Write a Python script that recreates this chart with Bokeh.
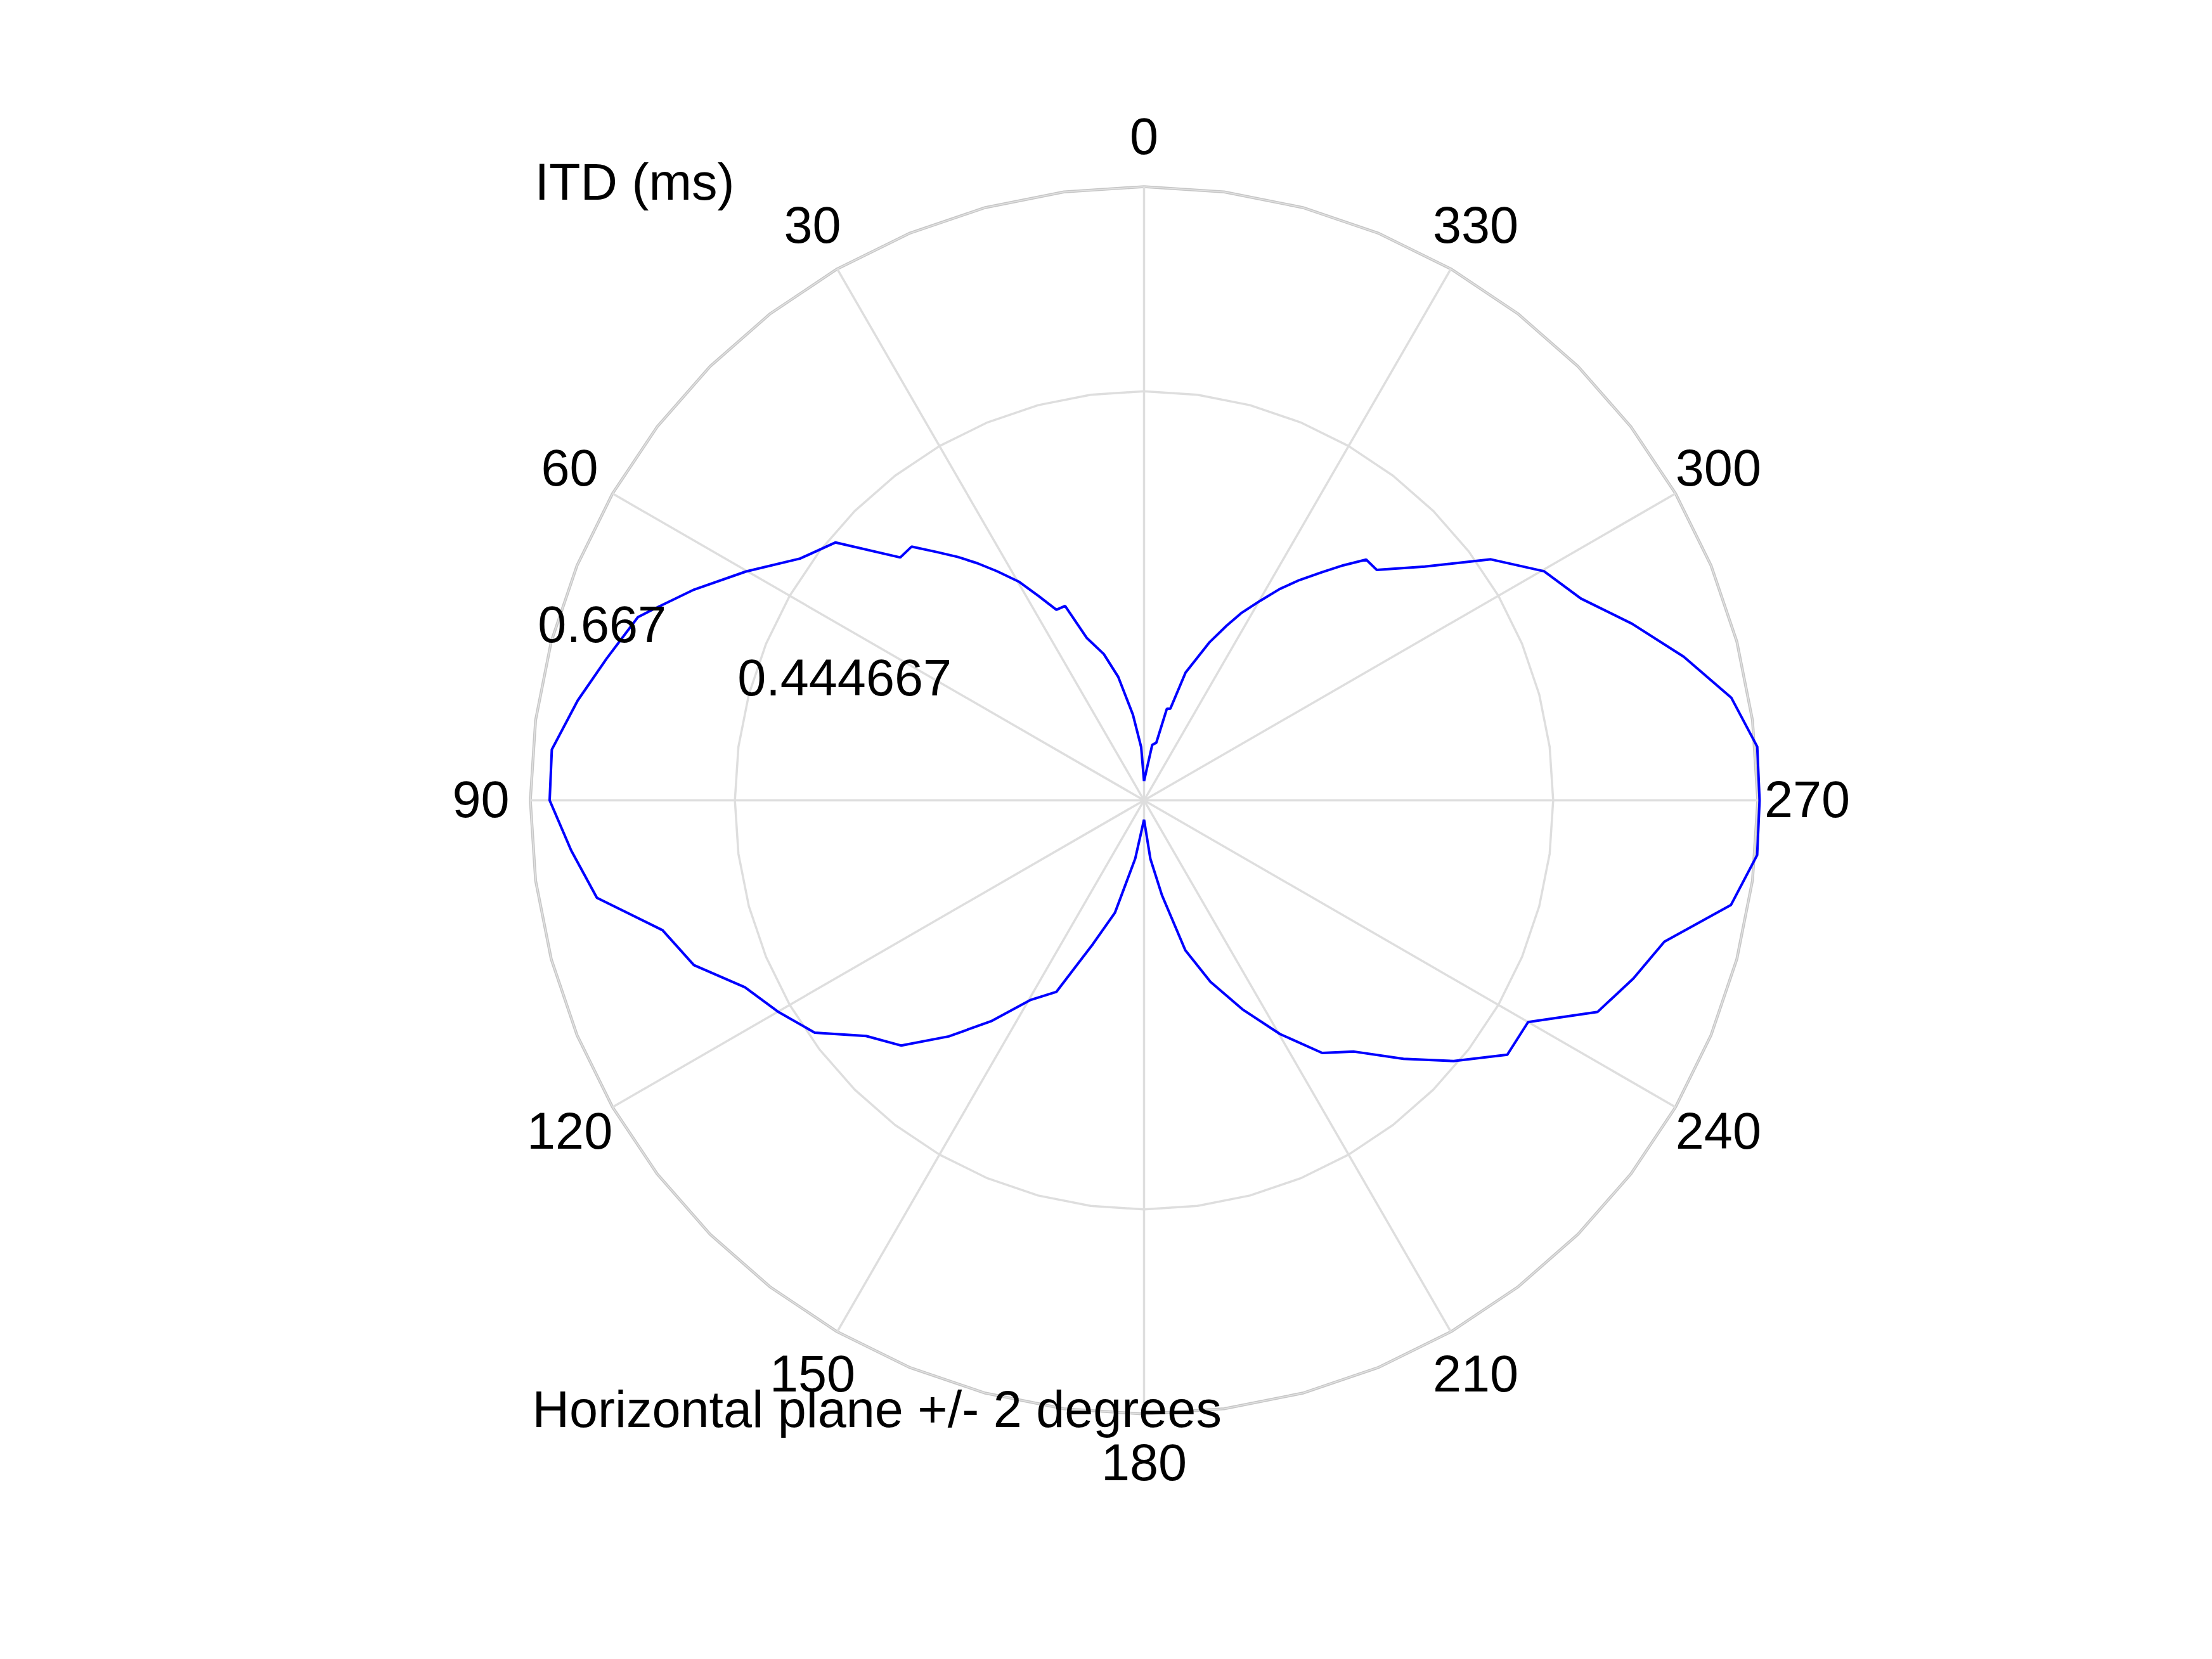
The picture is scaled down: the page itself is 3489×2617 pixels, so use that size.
import numpy as np
from bokeh.plotting import figure
from bokeh.embed import file_html
from bokeh.resources import INLINE
from bokeh.core.properties import value

# ---------------- data ----------------
azimuth_deg = [0.0, 3.1, 7.4, 11.8, 15.4, 19.4, 22.1, 24.7, 27.3, 29.8, 32.7, 35.1,
               37.4, 39.9, 42.5, 45.1, 50.1, 54.9, 60.1, 64.9, 68.8, 70.1, 75.2, 80.0,
               85.1, 90.0, 95.0, 100.1, 105.1, 110.1, 115.1, 120.1, 125.2, 130.3, 135.3,
               140.4, 145.3, 150.3, 155.4, 160.4, 165.5, 171.4, 180.0,
               186.2, 190.7, 195.4, 200.1, 205.2, 210.2, 215.2, 219.9, 225.1, 229.9,
               235.0, 240.0, 245.0, 250.0, 254.8, 259.9, 264.9, 270.0, 275.0, 279.9,
               284.9, 289.9, 294.8, 299.8, 304.8, 309.8, 314.7, 317.3, 319.7, 322.1,
               324.8, 327.3, 329.8, 332.6, 334.7, 337.5, 342.0, 344.0, 346.0, 348.0,
               351.6, 360.0]
itd_ms = [0.021, 0.058, 0.094, 0.137, 0.165, 0.187, 0.228, 0.228, 0.250, 0.274, 0.296, 0.315,
          0.333, 0.352, 0.374, 0.374, 0.437, 0.457, 0.499, 0.540, 0.573, 0.585, 0.604, 0.625,
          0.646, 0.646, 0.625, 0.604, 0.542, 0.521, 0.479, 0.459, 0.438, 0.396, 0.375,
          0.333, 0.292, 0.250, 0.229, 0.166, 0.126, 0.064, 0.021,
          0.064, 0.105, 0.169, 0.210, 0.251, 0.294, 0.336, 0.356, 0.398, 0.440,
          0.482, 0.482, 0.544, 0.566, 0.586, 0.648, 0.669, 0.669, 0.669, 0.648,
          0.607, 0.564, 0.523, 0.501, 0.459, 0.397, 0.356, 0.356, 0.335, 0.314,
          0.293, 0.273, 0.251, 0.229, 0.210, 0.186, 0.146, 0.1036, 0.1026, 0.064,
          0.061, 0.021]

ring_values = [0.444667, 0.667]
ring_labels = ["0.444667", "0.667"]
spoke_angles = [0, 30, 60, 90, 120, 150, 180, 210, 240, 270, 300, 330]
spoke_labels = ["0", "30", "60", "90", "120", "150", "180", "210", "240", "270", "300", "330"]
title_text = "ITD (ms)"
caption_text = "Horizontal plane +/- 2 degrees"

# ---------------- layout ----------------
W, H = 3473, 2601
CX, CY = 1804, 1262          # polar centre in frame pixels (from top-left)
RMAX = ring_values[-1]
K = 968.0 / RMAX             # pixels per ms
FONT = value("Liberation Sans")
FS = "81px"
TXT_OFF = 31.0               # rendered text sits this many px below its nominal baseline


def pol(theta_deg, r):
    t = np.radians(np.asarray(theta_deg, dtype=float))
    r = np.asarray(r, dtype=float)
    return -r * np.sin(t), r * np.cos(t)


p = figure(width=W, height=H,
           x_range=(-CX / K, (W - CX) / K),
           y_range=(-(H - CY) / K, CY / K),
           x_axis_type=None, y_axis_type=None,
           output_backend="svg", toolbar_location=None, min_border=0)
p.grid.visible = False
p.outline_line_color = None
p.background_fill_color = "white"
p.border_fill_color = "white"

# rings (faceted polygons)
poly_t = np.arange(0, 360.0 + 7.5, 7.5)
for i, rv in enumerate(ring_values):
    rx, ry = pol(poly_t, np.full(poly_t.shape, rv))
    if i == len(ring_values) - 1:
        p.line(rx, ry, line_color="#c6c6c6", line_width=4.5)
        p.line(rx, ry, line_color="#e2e2e2", line_width=1.6)
    else:
        p.line(rx, ry, line_color="#dedede", line_width=3.5)

# spokes
sx, sy = pol(spoke_angles, [RMAX] * len(spoke_angles))
p.segment(x0=[0.0] * len(spoke_angles), y0=[0.0] * len(spoke_angles), x1=sx, y1=sy,
          line_color="#dedede", line_width=3.5)

# data curve
dx, dy = pol(azimuth_deg, itd_ms)
p.line(dx, dy, line_color="#0000ff", line_width=4)

# angle labels (visual centre placed on the label circle)
shift = (0.358 * 81 - TXT_OFF) / K
lx, ly = pol(spoke_angles, [RMAX * 1.0806] * len(spoke_angles))
p.text(x=lx, y=ly - shift, text=spoke_labels, text_font=FONT, text_font_size=FS,
       text_align="center", text_baseline="alphabetic", text_color="black")

# ring value labels
rl_ang = [67.9, 72.1]
rl_frac = [0.790, 0.928]
rx_, ry_ = pol(rl_ang, [rv * f for rv, f in zip(ring_values, rl_frac)])
p.text(x=rx_, y=ry_ - shift, text=ring_labels, text_font=FONT, text_font_size=FS,
       text_align="center", text_baseline="alphabetic", text_color="black")

# title & caption (baselines)
p.text(x=[(843 - CX) / K], y=[(CY - 317 + TXT_OFF) / K], text=[title_text], text_font=FONT,
       text_font_size=FS, text_align="left", text_baseline="alphabetic", text_color="black")
p.text(x=[(839 - CX) / K], y=[(CY - 2253 + TXT_OFF) / K], text=[caption_text], text_font=FONT,
       text_font_size=FS, text_align="left", text_baseline="alphabetic", text_color="black")

open("out.html", "w").write(file_html(p, INLINE))
